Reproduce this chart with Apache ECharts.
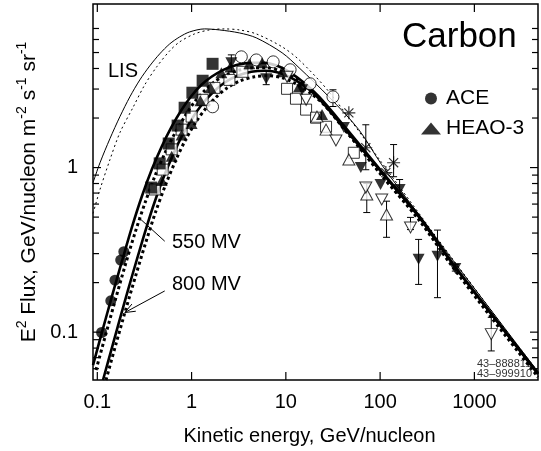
<!DOCTYPE html>
<html><head><meta charset="utf-8">
<script src="https://cdn.jsdelivr.net/npm/echarts@6/dist/echarts.min.js"></script>
<style>html,body{margin:0;padding:0;background:#fff}#c{width:541px;height:451px}</style>
</head><body><div id="c"></div>
<script>
// ---- axis ticks / labels ----
const xMajor = [0.1, 1, 10, 100, 1000];
const xTickLabels = ['0.1', '1', '10', '100', '1000'];
const yMajor = [0.1, 1];
const yTickLabels = ['0.1', '1'];
const yMinor = [0.06, 0.07, 0.08, 0.09, 0.2, 0.3, 0.4, 0.5, 0.6, 0.7, 0.8, 0.9, 2, 3, 4, 5, 6, 7];

// ---- model curves [E (GeV/n), E^2 flux] ----
const lisSolid = [[0.0901,0.811],[0.1068,1.07],[0.1362,1.50],[0.1737,2.04],[0.2215,2.69],[0.2824,3.41],[0.3601,4.15],[0.4593,4.91],[0.5857,5.64],[0.7468,6.22],[0.9526,6.67],[1.372,6.96],[1.976,6.86],[3.213,6.58],[4.858,6.14],[9.141,4.98],[13.82,4.04],[28.65,2.69],[59.43,1.70],[104.0,1.04],[255.6,0.520],[570.3,0.281],[1508,0.1355],[4730,0.0572]];
const lisDotted = [[0.0901,0.526],[0.1068,0.736],[0.1362,1.118],[0.1737,1.630],[0.2382,2.310],[0.3189,3.185],[0.4270,4.095],[0.5857,5.118],[0.7468,5.801],[1.076,6.489],[1.549,6.861],[2.231,6.957],[3.213,6.861],[4.858,6.489],[9.141,5.412],[13.82,4.514],[28.65,2.888],[104.0,1.072],[570.3,0.285],[4730,0.0572]];
const mod550Solid = [[0.0901,0.0631],[0.1121,0.100],[0.1429,0.165],[0.1823,0.269],[0.2325,0.433],[0.2965,0.667],[0.3781,0.972],[0.4821,1.341],[0.6148,1.772],[0.7843,2.246],[1.0,2.732],[1.275,3.185],[1.627,3.561],[2.177,3.926],[3.060,4.210],[4.301,4.329],[5.901,4.329],[8.091,4.152],[10.83,3.818],[15.60,3.275],[22.47,2.694],[41.27,1.797],[104.0,0.946],[255.6,0.512],[570.3,0.269],[1508,0.130],[4730,0.0564]];
const mod550Dotted = [[0.0969,0.0589],[0.1206,0.0933],[0.1538,0.154],[0.1961,0.251],[0.2501,0.398],[0.3189,0.605],[0.4067,0.882],[0.5187,1.216],[0.6614,1.607],[0.8435,2.037],[1.076,2.512],[1.372,2.929],[1.750,3.321],[2.342,3.661],[3.291,3.926],[4.627,4.037],[6.346,4.037],[8.709,3.872],[11.66,3.561],[16.39,3.097],[23.59,2.547],[41.27,1.723],[104.0,0.907],[255.6,0.491],[570.3,0.262],[1508,0.127],[4730,0.0549]];
const mod800Solid = [[0.1149,0.0512],[0.1464,0.0846],[0.1868,0.140],[0.2382,0.228],[0.3039,0.366],[0.3875,0.572],[0.4940,0.846],[0.6300,1.182],[0.8035,1.585],[1.025,2.009],[1.307,2.443],[1.667,2.848],[2.231,3.275],[3.060,3.611],[4.301,3.818],[6.047,3.872],[8.499,3.765],[11.94,3.463],[16.79,3.054],[23.59,2.547],[41.27,1.747],[104.0,0.933],[255.6,0.505],[570.3,0.266],[1508,0.129],[4730,0.0556]];
const mod800Dotted = [[0.1236,0.0512],[0.1576,0.0846],[0.2009,0.138],[0.2563,0.222],[0.3267,0.351],[0.4168,0.541],[0.5315,0.789],[0.6777,1.103],[0.8641,1.478],[1.102,1.874],[1.406,2.279],[1.792,2.657],[2.399,3.054],[3.291,3.368],[4.627,3.561],[6.503,3.611],[9.141,3.511],[12.85,3.229],[18.06,2.848],[25.38,2.409],[43.33,1.676],[104.0,0.894],[255.6,0.484],[570.3,0.255],[1508,0.123],[4730,0.0534]];

// ---- measurements [E, E^2 flux] ----
const ace = [[0.111,0.0995],[0.139,0.155],[0.154,0.207],[0.177,0.274],[0.191,0.308]];
const heao3 = [[0.482,0.834],[0.615,1.17],[0.784,1.58],[1.0,1.85],[1.24,2.55],[1.59,3.05],[2.07,3.77],[2.58,4.09],[4.10,4.27],[5.62,4.33],[9.14,3.82],[13.8,3.10],[24.2,2.10]];
const filledSquares = [[0.373,0.756],[0.459,1.06],[0.572,1.40],[0.711,1.80],[0.844,2.31],[1.02,2.85],[1.31,3.37],[1.67,4.27]];
const openSquares = [[0.407,0.736],[0.494,0.972],[0.615,1.29],[0.784,1.70],[1.0,2.04],[1.31,2.58],[1.75,3.05],[2.52,3.41],[3.46,3.82],[10.3,3.01],[12.8,2.62],[16.4,2.25],[20.9,2.01],[26.7,1.77],[52.6,1.23]];
const openCircles = [[1.67,2.34],[3.37,4.71],[4.86,4.51],[7.34,4.39],[11.1,3.93],[18.1,3.23],[31.6,2.69]];
const filledDown = [[2.64,4.33],[6.19,3.46],[14.9,2.97],[41.3,1.75],[62.4,1.0],[101,0.789],[161,0.736],[256,0.277],[406,0.289],[628,0.244]];
const openDown = [[10.3,3.56],[16.4,2.58],[34.0,1.46],[70.5,0.756],[104,0.640],[210,0.433],[1510,0.0973]];
const openUp = [[21.4,2.04],[26.7,1.70],[46.6,1.12],[72.2,0.686],[117,0.519]];
const stars = [[46.6,2.15],[70.5,1.32],[139,1.07],[115,0.932]];
// error bars [E, low, high]
const errorBars = [[31.6,2.35,2.97],[2.64,3.82,4.84],[6.19,3.19,3.84],[70.5,0.97,1.82],[139,0.88,1.38],[72.2,0.533,0.80],[117,0.377,0.625],[210,0.42,0.498],[161,0.70,0.846],[256,0.195,0.366],[406,0.162,0.417],[628,0.235,0.258],[1510,0.0769,0.123]];
// pointer lines [E1, F1, E2, F2, arrowhead]
const pointers = [[0.519,0.357,0.275,0.497,0],[0.519,0.178,0.196,0.1316,1]];

const FONT = 'Liberation Sans, Arial, Helvetica, sans-serif';
const chart = echarts.init(document.getElementById('c'), null, {renderer: 'canvas'});

function labelFor(v, majors, labels) {
  for (let i = 0; i < majors.length; i++) {
    if (Math.abs(Math.log10(v) - Math.log10(majors[i])) < 1e-6) return labels[i];
  }
  return '';
}
function line(x1, y1, x2, y2, w) {
  return {type: 'line', shape: {x1, y1, x2, y2}, style: {stroke: '#000', lineWidth: w || 1}};
}
function isMajor(v) { const l = Math.log10(v); return Math.abs(l - Math.round(l)) < 1e-6; }

const scatterBase = {type: 'scatter', z: 4, animation: false};
const lineBase = {type: 'line', showSymbol: false, smooth: 0.3, z: 2, animation: false, clip: true, silent: true};

const option = {
  animation: false,
  backgroundColor: '#fff',
  grid: {left: 93, right: 1, top: 4, bottom: 70, show: true, borderColor: '#000', borderWidth: 1.5, backgroundColor: 'transparent'},
  legend: {
    data: ['ACE', 'HEAO-3'], orient: 'vertical', left: 416, top: 83, itemWidth: 20, itemHeight: 12, itemGap: 9,
    selectedMode: false, textStyle: {fontSize: 21, color: '#000', fontFamily: FONT}
  },
  xAxis: {
    type: 'log', logBase: 10, min: 0.09, max: 4730,
    axisLine: {show: false}, axisTick: {show: false}, splitLine: {show: false},
    axisLabel: {fontSize: 20, color: '#000', fontFamily: FONT, margin: 12, formatter: v => labelFor(v, xMajor, xTickLabels)},
    name: 'Kinetic energy, GeV/nucleon', nameLocation: 'middle', nameGap: 46,
    nameTextStyle: {fontSize: 20, color: '#000', fontFamily: FONT, padding: [0, 12, 0, 0]}
  },
  yAxis: {
    type: 'log', logBase: 10, min: 0.0512, max: 9.86,
    axisLine: {show: false}, axisTick: {show: false}, splitLine: {show: false},
    axisLabel: {fontSize: 20, color: '#000', fontFamily: FONT, margin: 15, formatter: v => labelFor(v, yMajor, yTickLabels)},
    name: '{n|E}{s|2}{n| Flux, GeV/nucleon m}{s|-2}{n| s}{s|-1}{n| sr}{s|-1}',
    nameLocation: 'middle', nameRotate: 90, nameGap: 50,
    nameTextStyle: {
      color: '#000', fontFamily: FONT,
      rich: {
        n: {fontSize: 21, lineHeight: 27, fontFamily: FONT, color: '#000'},
        s: {fontSize: 14, lineHeight: 14, verticalAlign: 'top', fontFamily: FONT, color: '#000'}
      }
    }
  },
  graphic: [
    {type: 'text', x: 402, y: 37, style: {text: 'Carbon', fontSize: 35, fontFamily: FONT, fill: '#000', verticalAlign: 'middle'}},
    {type: 'text', x: 108, y: 71, style: {text: 'LIS', fontSize: 20, fontFamily: FONT, fill: '#000', verticalAlign: 'middle'}},
    {type: 'text', x: 172, y: 242, style: {text: '550 MV', fontSize: 20, fontFamily: FONT, fill: '#000', verticalAlign: 'middle'}},
    {type: 'text', x: 172, y: 284, style: {text: '800 MV', fontSize: 20, fontFamily: FONT, fill: '#000', verticalAlign: 'middle'}},
    {type: 'text', x: 477, y: 363.5, style: {text: '43–888811', fontSize: 11, fontFamily: FONT, fill: '#333', verticalAlign: 'middle'}},
    {type: 'text', x: 477, y: 373.5, style: {text: '43–999910', fontSize: 11, fontFamily: FONT, fill: '#333', verticalAlign: 'middle'}}
  ],
  series: [
    Object.assign({}, lineBase, {name: 'LIS solid', data: lisSolid, lineStyle: {color: '#000', width: 1}}),
    Object.assign({}, lineBase, {name: 'LIS dotted', data: lisDotted, lineStyle: {color: '#000', width: 1, type: [2, 3]}}),
    Object.assign({}, lineBase, {name: '550 MV solid', data: mod550Solid, lineStyle: {color: '#000', width: 2.6}}),
    Object.assign({}, lineBase, {name: '550 MV dotted', data: mod550Dotted, lineStyle: {color: '#000', width: 3, type: [3, 3]}}),
    Object.assign({}, lineBase, {name: '800 MV solid', data: mod800Solid, lineStyle: {color: '#000', width: 2.6}}),
    Object.assign({}, lineBase, {name: '800 MV dotted', data: mod800Dotted, lineStyle: {color: '#000', width: 3, type: [3, 3]}}),
    {
      type: 'custom', name: 'errors', z: 3, silent: true, data: errorBars, encode: {x: 0, y: [1, 2]},
      renderItem: (params, api) => {
        const a = api.coord([api.value(0), api.value(1)]);
        const b = api.coord([api.value(0), api.value(2)]);
        return {type: 'group', children: [line(a[0], a[1], b[0], b[1]), line(a[0] - 3.5, a[1], a[0] + 3.5, a[1]), line(b[0] - 3.5, b[1], b[0] + 3.5, b[1])]};
      }
    },
    {
      type: 'custom', name: 'pointers', z: 3, silent: true, data: pointers, encode: {x: [0, 2], y: [1, 3]},
      renderItem: (params, api) => {
        const a = api.coord([api.value(0), api.value(1)]);
        const b = api.coord([api.value(2), api.value(3)]);
        const ch = [line(a[0], a[1], b[0], b[1], 1)];
        if (api.value(4)) {
          const ang = Math.atan2(a[1] - b[1], a[0] - b[0]);
          [0.38, -0.38].forEach(d => ch.push(line(b[0], b[1], b[0] + 11 * Math.cos(ang + d), b[1] + 11 * Math.sin(ang + d), 1)));
        }
        return {type: 'group', children: ch};
      }
    },
    Object.assign({}, scatterBase, {name: 'open squares', data: openSquares, symbol: 'rect', symbolSize: 11, itemStyle: {color: '#fff', borderColor: '#000', borderWidth: 1}}),
    Object.assign({}, scatterBase, {name: 'open circles', data: openCircles, symbol: 'circle', symbolSize: 12, itemStyle: {color: '#fff', borderColor: '#000', borderWidth: 1}}),
    Object.assign({}, scatterBase, {name: 'open up', data: openUp, symbol: 'triangle', symbolSize: [12, 11], itemStyle: {color: '#fff', borderColor: '#000', borderWidth: 1}}),
    Object.assign({}, scatterBase, {name: 'open down', data: openDown, symbol: 'triangle', symbolRotate: 180, symbolSize: [12, 11], itemStyle: {color: '#fff', borderColor: '#000', borderWidth: 1}}),
    Object.assign({}, scatterBase, {name: 'filled squares', data: filledSquares, symbol: 'rect', symbolSize: 12, itemStyle: {color: '#000'}}),
    Object.assign({}, scatterBase, {name: 'HEAO-3', data: heao3, symbol: 'triangle', symbolSize: [12, 11], itemStyle: {color: '#000'}}),
    Object.assign({}, scatterBase, {name: 'filled down', data: filledDown, symbol: 'triangle', symbolRotate: 180, symbolSize: [12, 11], itemStyle: {color: '#000'}}),
    Object.assign({}, scatterBase, {name: 'stars', data: stars, symbol: 'path://M0,-6L0,6M-6,0L6,0M-4.2,-4.2L4.2,4.2M-4.2,4.2L4.2,-4.2', symbolSize: 13, itemStyle: {color: 'none', borderColor: '#000', borderWidth: 1.2}}),
    Object.assign({}, scatterBase, {name: 'ACE', data: ace, symbol: 'circle', symbolSize: 11, itemStyle: {color: '#000'}}),
    {
      type: 'custom', name: 'yticks', z: 6, silent: true, data: yMajor.concat(yMinor).map(v => [1, v]), encode: {x: 0, y: 1},
      renderItem: (params, api) => {
        const cs = params.coordSys; const v = api.value(1);
        const p = api.coord([1, v]); const len = isMajor(v) ? 8 : 6;
        return {type: 'group', children: [line(cs.x, p[1], cs.x + len, p[1], 1.2), line(cs.x + cs.width, p[1], cs.x + cs.width - len, p[1], 1.2)]};
      }
    },
    {
      type: 'custom', name: 'xticks', z: 6, silent: true, data: xMajor.map(v => [v, 1]), encode: {x: 0, y: 1},
      renderItem: (params, api) => {
        const cs = params.coordSys;
        const p = api.coord([api.value(0), 1]);
        return {type: 'group', children: [line(p[0], cs.y + cs.height, p[0], cs.y + cs.height - 8, 1.2), line(p[0], cs.y, p[0], cs.y + 8, 1.2)]};
      }
    }
  ]
};
chart.setOption(option);
</script></body></html>
